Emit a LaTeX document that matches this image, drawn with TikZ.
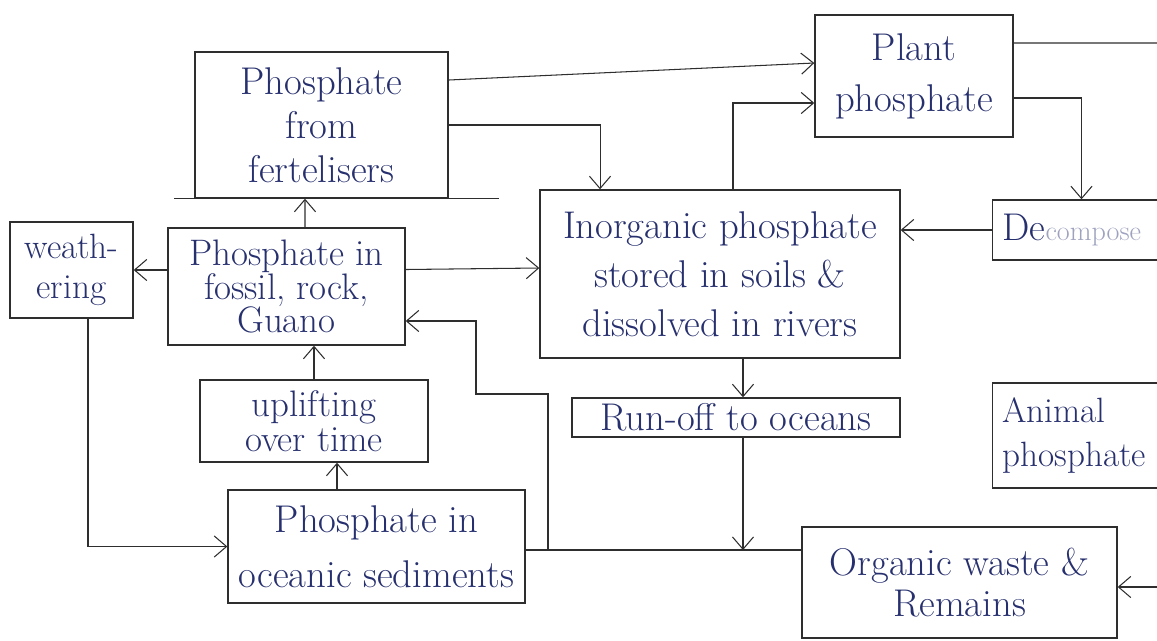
\documentclass[tikz,border=0pt]{standalone}
\usepackage{fontspec}
\usetikzlibrary{arrows.meta}
\definecolor{ink}{HTML}{27306E}
\definecolor{pencil}{HTML}{2E2E2E}

\begin{document}
\begin{tikzpicture}[x=0.02cm, y=-0.02cm,
  box/.style={draw=pencil, line width=0.8pt, text=ink, align=center, inner sep=0pt,
    font=\fontsize{22}{28}\selectfont},
  flow/.style={draw=pencil, line width=0.6pt, -{Straight Barb[length=7pt, width=12pt]}},
  line/.style={draw=pencil, line width=0.6pt}]
\useasboundingbox (0,0) rectangle (1157,640);
\clip (0,0) rectangle (1157,640);

\node[box, minimum width=5.06cm, minimum height=2.92cm, font=\fontsize{22}{25}\selectfont] (fert) at (321.5,125) {Phosphate\\from\\fertelisers};
\node[box, minimum width=2.46cm, minimum height=1.92cm, font=\fontsize{20}{23}\selectfont] (weath) at (71.5,270) {weath-\\ering};
\node[box, minimum width=4.74cm, minimum height=2.34cm, font=\fontsize{21}{19}\selectfont] (fossil) at (286.5,286.5) {Phosphate in\\fossil, rock,\\Guano};
\node[box, minimum width=4.56cm, minimum height=1.64cm, font=\fontsize{21}{20}\selectfont] (uplift) at (314,421) {uplifting\\over time};
\node[box, minimum width=5.94cm, minimum height=2.26cm, font=\fontsize{22}{31}\selectfont] (ocean) at (376.5,546.5) {Phosphate in\\oceanic sediments};
\node[box, minimum width=7.2cm, minimum height=3.36cm] (inorg) at (720,274) {Inorganic phosphate\\stored in soils \&\\dissolved in rivers};
\node[box, minimum width=6.56cm, minimum height=0.78cm] (runoff) at (736,417.5) {Run-off to oceans};
\node[box, minimum width=6.3cm, minimum height=2.22cm, font=\fontsize{22}{23}\selectfont] (organic) at (959.5,582.5) {Organic waste \&\\Remains};
\node[box, minimum width=3.96cm, minimum height=2.44cm, font=\fontsize{22}{29}\selectfont] (plant) at (914,76) {Plant\\phosphate};
\node[box, align=left, text width=3.9cm, inner xsep=0.2cm, minimum height=1.2cm] (decomp) at (1100,230) {De{\fontsize{16}{20}\selectfont\color{ink!45}compose}};
\node[box, align=left, text width=3.9cm, inner xsep=0.2cm, minimum height=2.1cm, font=\fontsize{20}{25}\selectfont] (animal) at (1100,435.5) {Animal\\phosphate};

\coordinate (toanimal) at (1170,43);
\coordinate (fromright) at (1170,587);
\coordinate (meet) at (743,550);
\coordinate (fork) at (548,550);
\coordinate (bend1) at (548,394);
\coordinate (bend2) at (476,394);

\draw[line] ([xshift=-0.4cm]fert.south west) -- ([xshift=1cm]fert.south east);

\draw[flow] ([yshift=0.9cm]fert.east) -- ([yshift=0.26cm]plant.west);
\draw[flow] (fert.east) -| ([xshift=-2.4cm]inorg.north);
\draw[flow] ([xshift=0.26cm]inorg.north) |- ([yshift=-0.54cm]plant.west);
\draw[line] ([yshift=0.66cm]plant.east) -- (toanimal);
\draw[flow] ([yshift=-0.44cm]plant.east) -| ([xshift=-0.37cm]decomp.north);
\draw[flow] (decomp.west) -- (decomp.west -| inorg.east);

\draw[flow] ([xshift=0.37cm]fossil.north) -- ([xshift=-0.33cm]fert.south);
\draw[flow] (fossil.west |- weath.east) -- (weath.east);
\draw[flow] ([yshift=0.34cm]fossil.east) -- ([yshift=0.12cm]inorg.west);
\draw[flow] ([xshift=0.33cm]weath.south) |- (ocean.west);
\draw[flow] (uplift.north) -- (uplift.north |- fossil.south);
\draw[flow] ([xshift=-0.79cm]ocean.north) -- ([xshift=-0.79cm]ocean.north |- uplift.south);

\draw[flow] ([xshift=0.46cm]inorg.south) -- ([xshift=0.46cm]inorg.south |- runoff.north);
\draw[flow] (runoff.south -| meet) -- (meet);
\draw[line] (ocean.east |- meet) -- (organic.west |- meet);
\draw[flow] (fork) -- (bend1) -- (bend2) |- ([yshift=-0.69cm]fossil.east);
\draw[flow] (fromright) -- (organic.east |- fromright);
\end{tikzpicture}
\end{document}
